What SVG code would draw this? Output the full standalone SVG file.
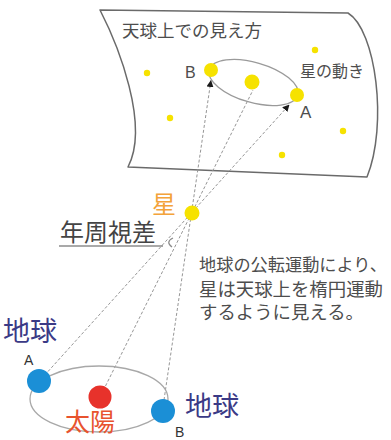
<svg xmlns="http://www.w3.org/2000/svg" width="391" height="440" viewBox="0 0 391 440">
  <style>
    .jp { font-family: "Noto Sans CJK JP", "Noto Sans", sans-serif; }
    .lat { font-family: "Liberation Sans", Arial, sans-serif; }
    .gray { fill: #4d4d4d; }
    .earth-label { fill: #3b3a86; font-size: 27px; }
    .sight { fill: none; stroke: #969696; stroke-width: 1; stroke-dasharray: 3 2; }
    .star-dot { fill: #f6e200; }
    .earth { fill: #1b8fd6; }
  </style>
  <defs>
    <marker id="tip" viewBox="0 0 10 10" refX="10" refY="5" markerWidth="7" markerHeight="7" markerUnits="userSpaceOnUse" orient="auto">
      <path d="M0,0 L10,5 L0,10 Z" fill="#1a1a1a"/>
    </marker>
  </defs>

  <rect width="391" height="440" fill="#ffffff"/>

  <!-- celestial sphere panel -->
  <g id="celestial-panel">
    <path d="M100,10 L348,13 C376,30 388,125 367,177 L128,167 C150,125 118,45 100,10 Z" fill="#ffffff" stroke="#6a6a6a" stroke-width="1.5" stroke-linejoin="round"/>
    <text class="jp gray" x="122" y="37" font-size="17.5">天球上での見え方</text>
    <text class="jp gray" x="300" y="77" font-size="16">星の動き</text>
    <!-- apparent path of the star -->
    <ellipse cx="253.5" cy="82.5" rx="46" ry="20" transform="rotate(16 253.5 82.5)" fill="none" stroke="#9a9a9a" stroke-width="1.3"/>
    <!-- background stars -->
    <circle class="star-dot" cx="147" cy="73" r="3.2"/>
    <circle class="star-dot" cx="170" cy="118" r="3.2"/>
    <circle class="star-dot" cx="315" cy="50" r="3.2"/>
    <circle class="star-dot" cx="343" cy="131" r="3.2"/>
    <circle class="star-dot" cx="282" cy="155" r="3.2"/>
  </g>

  <g id="sky-position-b">
    <circle class="star-dot" cx="211" cy="70" r="7"/>
    <text class="lat gray" x="185" y="78" font-size="16">B</text>
  </g>
  <g id="sky-position-center">
    <circle class="star-dot" cx="252" cy="82" r="7.5"/>
  </g>
  <g id="sky-position-a">
    <circle class="star-dot" cx="297" cy="95" r="7"/>
    <text class="lat gray" x="300" y="118" font-size="17">A</text>
  </g>

  <!-- lines of sight -->
  <g id="connectors">
    <line class="sight" x1="48" y1="371.5" x2="289.5" y2="104.5" marker-end="url(#tip)"/>
    <line class="sight" x1="164" y1="400" x2="211" y2="80" marker-end="url(#tip)"/>
    <line class="sight" x1="105.5" y1="386" x2="253" y2="90"/>
    <!-- parallax angle mark -->
    <path d="M173,238 Q165,242 172,247" fill="none" stroke="#8a8a8a" stroke-width="1.2"/>
  </g>

  <g id="star">
    <circle class="star-dot" cx="192" cy="213" r="7.5"/>
    <text class="jp" x="152" y="213" font-size="24" fill="#f3a33a">星</text>
  </g>

  <g id="parallax-label">
    <text class="jp" x="60" y="240.5" font-size="24" fill="#444444">年周視差</text>
    <line x1="59" y1="246" x2="163" y2="246" stroke="#555555" stroke-width="1.2"/>
  </g>

  <g id="explanation">
    <text class="jp gray" x="199" y="271" font-size="17.2">地球の公転運動により、</text>
    <text class="jp gray" x="199" y="295.5" font-size="18.4">星は天球上を楕円運動</text>
    <text class="jp gray" x="199" y="319" font-size="18.4">するように見える。</text>
  </g>

  <g id="orbit">
    <ellipse cx="99" cy="399" rx="69" ry="33" fill="none" stroke="#a8a8a8" stroke-width="1.3"/>
  </g>

  <g id="sun">
    <circle cx="100" cy="397" r="11.5" fill="#e7322b"/>
    <text class="jp" x="65" y="431" font-size="25" fill="#e8532e">太陽</text>
  </g>

  <g id="earth-a">
    <circle class="earth" cx="39" cy="381" r="12"/>
    <text class="jp earth-label" x="3" y="341">地球</text>
    <text class="lat" x="24" y="365" font-size="14" fill="#333333">A</text>
  </g>

  <g id="earth-b">
    <circle class="earth" cx="163" cy="411" r="12"/>
    <text class="jp earth-label" x="185" y="416">地球</text>
    <text class="lat" x="175" y="437" font-size="14" fill="#333333">B</text>
  </g>
</svg>
